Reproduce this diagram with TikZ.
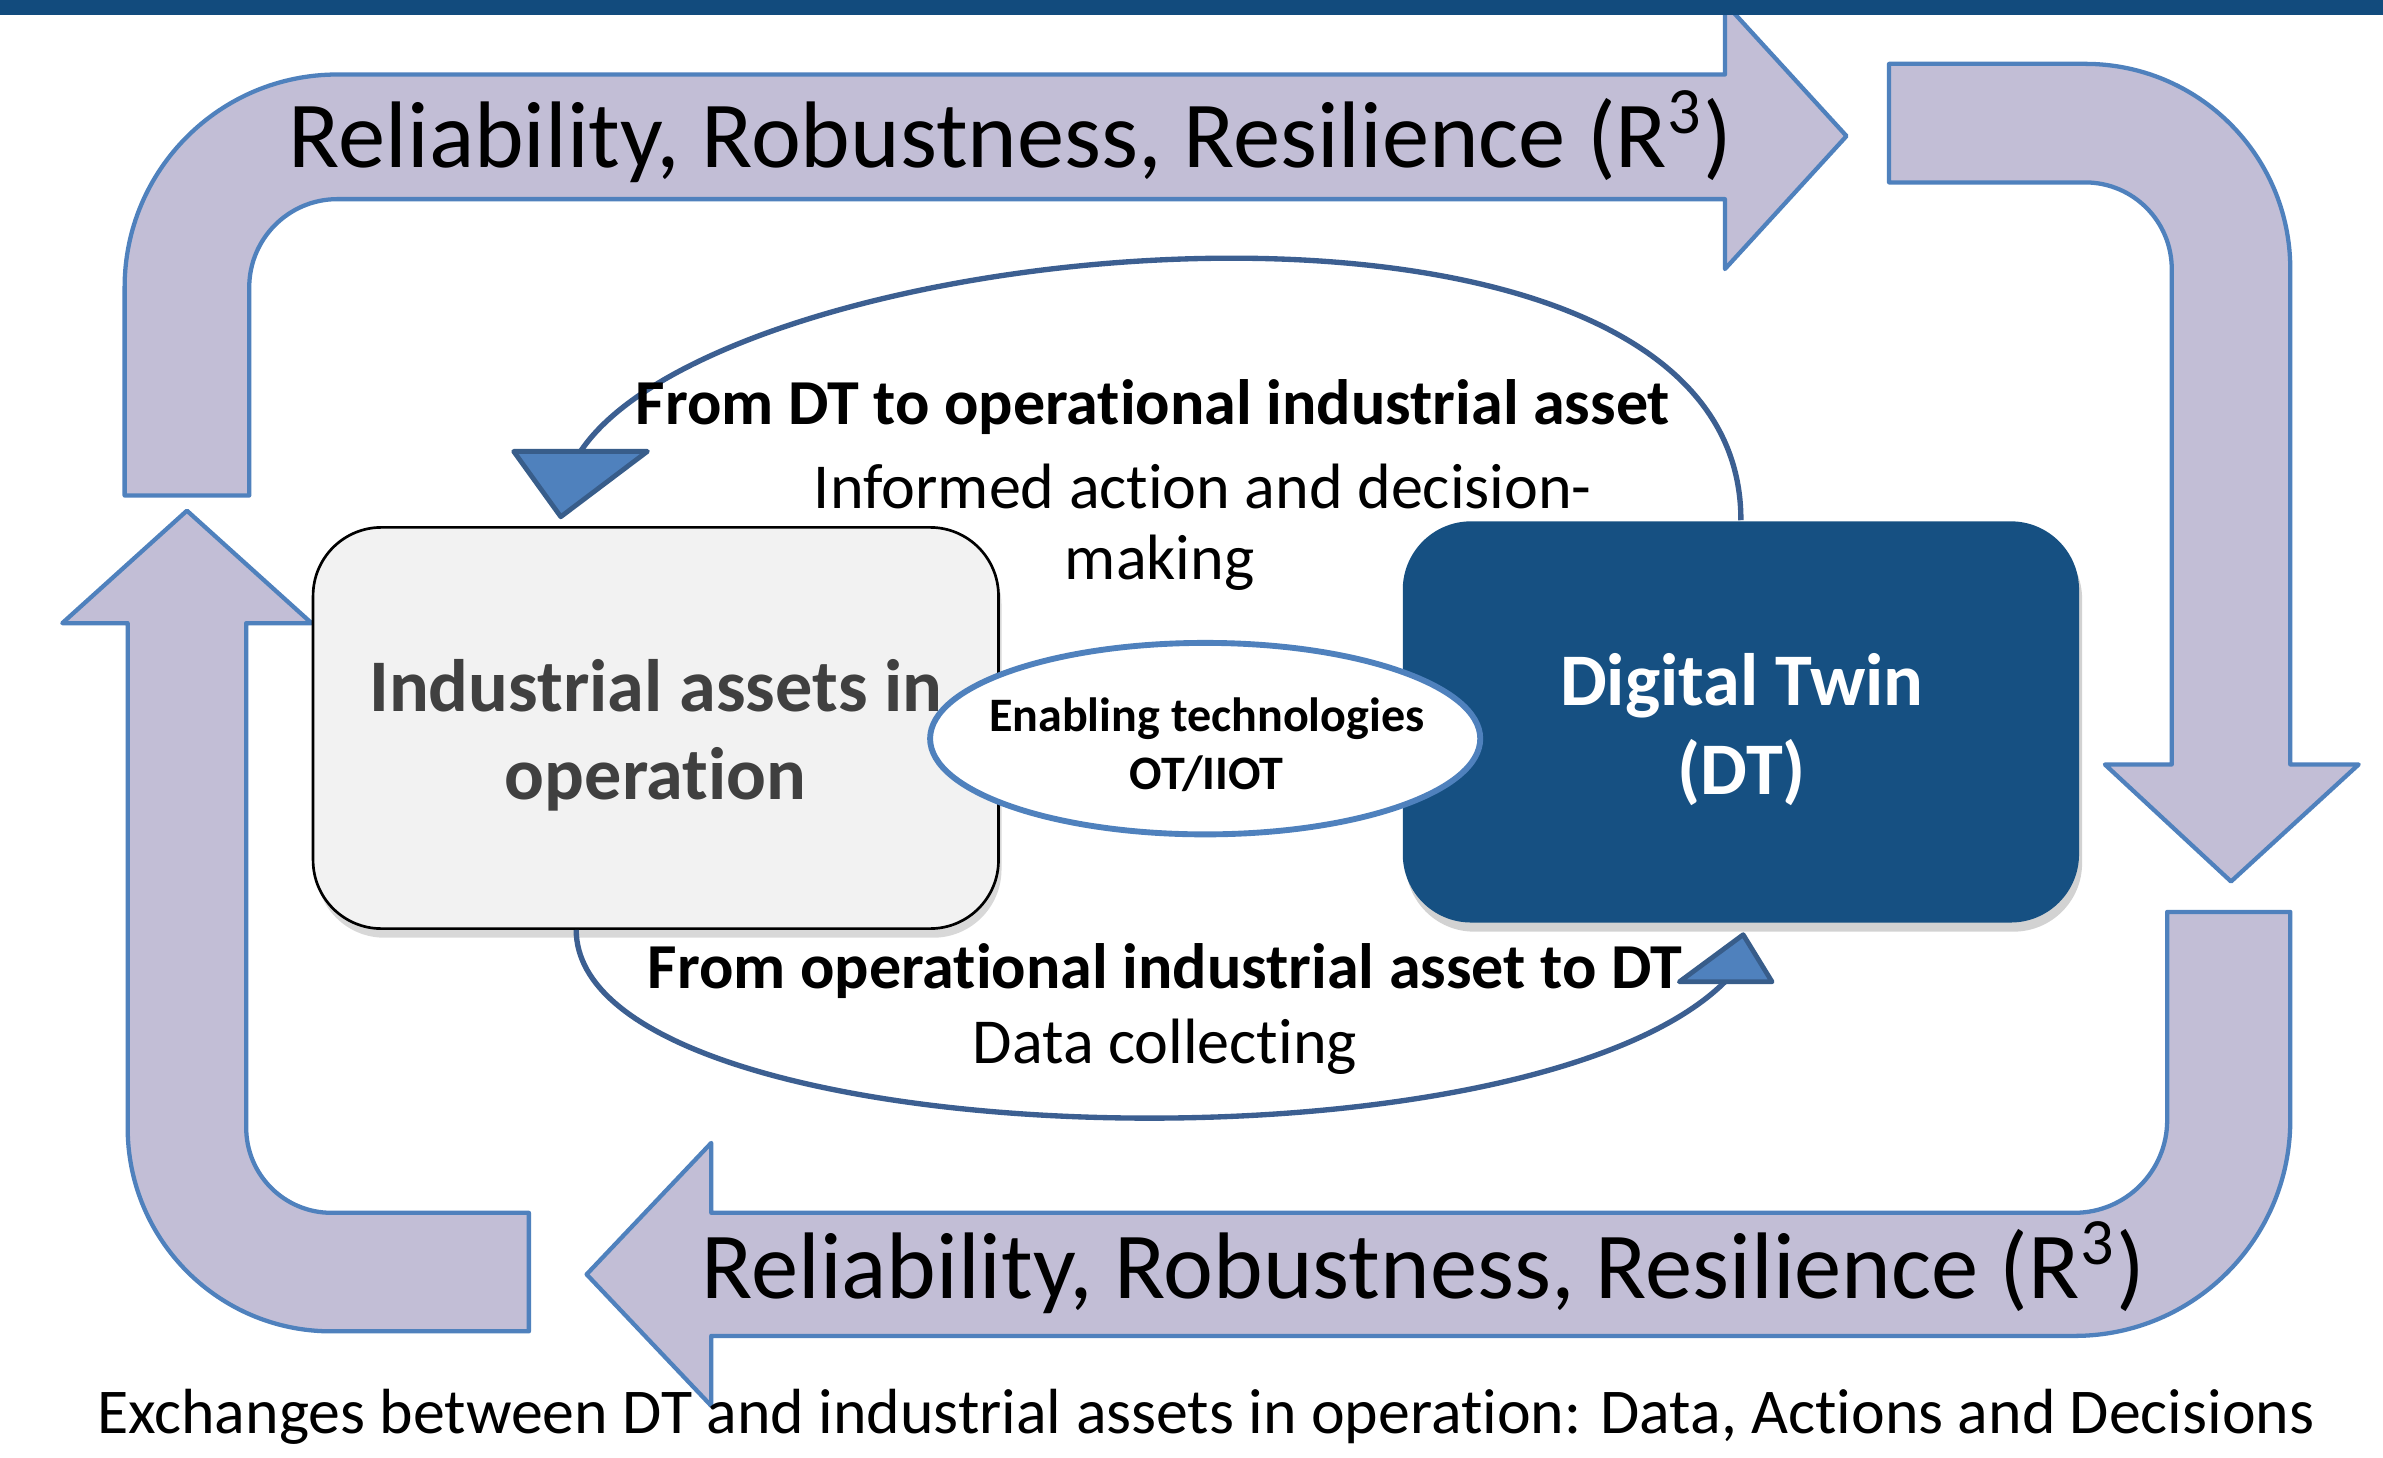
\documentclass[tikz,border=0pt]{standalone}
\usepackage{fontspec}
\setmainfont{Carlito}[Ligatures=NoCommon]
\usetikzlibrary{shadows}
\definecolor{barblue}{RGB}{18,75,125}
\definecolor{dtblue}{RGB}{22,80,130}
\definecolor{bandfill}{RGB}{194,190,214}
\definecolor{bandline}{RGB}{79,129,189}
\definecolor{flowblue}{RGB}{60,95,145}
\definecolor{headline}{RGB}{56,93,138}
\definecolor{assetgrey}{RGB}{242,242,242}
\definecolor{assettext}{RGB}{64,64,64}
\newcommand{\loopfont}{\fontsize{17.7}{21}\selectfont}
\newcommand{\boxfont}{\fontsize{13.9}{16.5}\selectfont\bfseries}
\newcommand{\techfont}{\fontsize{9}{10.8}\selectfont\bfseries}
\newcommand{\flowfont}{\fontsize{12}{14.2}\selectfont}
\newcommand{\captfont}{\fontsize{11.95}{14}\selectfont}
\begin{document}
\begin{tikzpicture}[x=0.1mm, y=-0.1mm, line join=round,
  band/.style={fill=bandfill, draw=bandline, line width=0.8pt},
  flowline/.style={draw=flowblue, line width=1pt},
  flowhead/.style={fill=bandline, draw=headline, line width=0.9pt},
  assetbox/.style={draw=black, line width=0.5pt, fill=assetgrey, rounded corners=4.5mm,
    minimum width=45.1mm, minimum height=26.4mm,
    drop shadow={shadow xshift=0.2mm, shadow yshift=-0.6mm, opacity=0.3}},
  dtbox/.style={fill=dtblue, rounded corners=4.5mm, minimum width=44.5mm, minimum height=26.4mm,
    drop shadow={shadow xshift=0.2mm, shadow yshift=-0.6mm, opacity=0.35}},
  boxlabel/.style={align=center, font=\boxfont, inner sep=0pt},
  techlabel/.style={align=center, font=\techfont, inner sep=0pt},
  looplabel/.style={font=\loopfont, inner sep=0pt},
  flowtitle/.style={font=\flowfont\bfseries, inner sep=0pt},
  flowtext/.style={font=\flowfont, align=center, inner sep=0pt}]
  \useasboundingbox (0,0) rectangle (1568,959);
  \fill[white] (0,0) rectangle (1568,959);

  % outer R3 loop
  \draw[band] (82,326) -- (82,189) .. controls (82,111.7) and (144.7,49) .. (222,49)
    -- (1135,49) -- (1135,2) -- (1215,89.5) -- (1135,177) -- (1135,131) -- (222,131)
    .. controls (190,131) and (164,157) .. (164,189) -- (164,326) -- cycle;
  \draw[band] (1243,42) -- (1372,42) .. controls (1446.6,42) and (1507,102.4) .. (1507,177)
    -- (1507,503) -- (1552,503) -- (1468,580) -- (1385,503) -- (1429,503) -- (1429,177)
    .. controls (1429,145.5) and (1403.5,120) .. (1372,120) -- (1243,120) -- cycle;
  \draw[band] (1426,600) -- (1507,600) -- (1507,737) .. controls (1507,815.4) and (1443.4,879) .. (1365,879)
    -- (468,879) -- (468,925) -- (386,838.5) -- (468,752) -- (468,798) -- (1365,798)
    .. controls (1398.7,798) and (1426,770.7) .. (1426,737) -- cycle;
  \draw[band] (348,798) -- (218,798) .. controls (187.1,798) and (162,772.9) .. (162,742)
    -- (162,410) -- (205,410) -- (123,336) -- (41,410) -- (84,410) -- (84,742)
    .. controls (84,816) and (144,876) .. (218,876) -- (348,876) -- cycle;

  \node[looplabel] (rtop) at (665,90) {Reliability, Robustness, Resilience (R\textsuperscript{3})};
  \node[looplabel] (rbot) at (936.5,834) {Reliability, Robustness, Resilience (R\textsuperscript{3})};

  % assets and twin
  \node[assetbox] (asset) at (431.5,479) {};
  \node[boxlabel, text=assettext] (assetname) at (431.5,484) {Industrial assets in\\operation};
  \node[dtbox] (dt) at (1145.5,475) {};
  \node[boxlabel, text=white] (dtname) at (1146,480) {Digital Twin\\(DT)};
  \draw[draw=bandline, line width=1.1pt, fill=white] (793,486) ellipse [x radius=18.1mm, y radius=6.3mm];
  \node[techlabel] (tech) at (794,490) {Enabling technologies\\OT/IIOT};

  % exchanges
  \coordinate (actin) at (382,297);
  \coordinate (datain) at (1135,646);
  \draw[flowline] (dt.north) .. controls (1146,90) and (480,150) .. (actin);
  \draw[flowhead] (338,297) -- (426,297) -- (369,340) -- cycle;
  \draw[flowline] ([xshift=17.4mm]asset.south west) .. controls (380,760) and (1000,780) .. (datain);
  \draw[flowhead] (1105,646) -- (1166,646) -- (1147,615) -- cycle;

  \node[flowtitle] (todt) at (758.5,268) {From DT to operational industrial asset};
  \node[flowtext] (action) at (791.5,320) {Informed action and decision-};
  \node[flowtext] (making) at (763,370) {making};
  \node[flowtitle] (fromasset) at (766.5,639) {From operational industrial asset to DT};
  \node[flowtext] (collect) at (766.5,689) {Data collecting};

  \node[inner sep=0pt, font=\captfont] (caption) at (793.5,932) {Exchanges between DT and industrial assets in operation: Data, Actions and Decisions};

  \fill[barblue] (0,0) rectangle (1568,10);
\end{tikzpicture}
\end{document}
